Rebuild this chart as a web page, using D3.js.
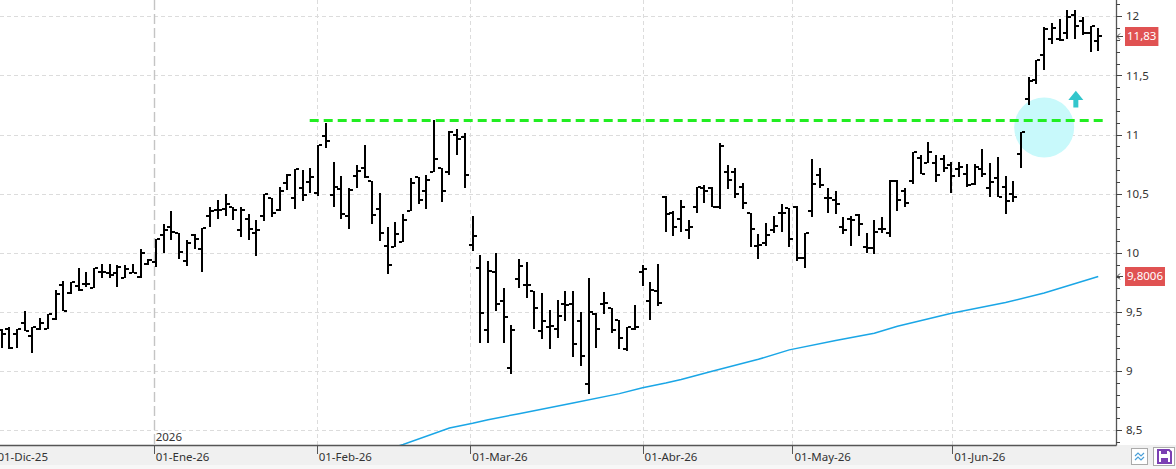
<!DOCTYPE html>
<html>
<head>
<meta charset="utf-8">
<script src="https://cdn.jsdelivr.net/npm/d3@7"></script>
<style>
html, body { margin: 0; padding: 0; background: #fff; }
svg { display: block; font-family: "Noto Sans", "DejaVu Sans", sans-serif; }
</style>
</head>
<body>
<svg id="chart"></svg>
<script>
// daily OHLC, one entry per trading session
const opens = [
  9.35, 9.36, 9.31, 9.41, 9.30, 9.36, 9.36, 9.44, 9.73, 9.66,
  9.72, 9.74, 9.70, 9.84, 9.83, 9.83, 9.79, 9.83, 9.80, 9.91,
  9.92, 10.15, 10.22, 10.17, 9.93, 10.15, 10.03, 10.31, 10.36, 10.37,
  10.39, 10.19, 10.29, 10.17, 10.31, 10.46, 10.36, 10.59, 10.46, 10.55,
  10.60, 10.51, 10.99, 10.49, 10.54, 10.31, 10.65, 10.72, 10.61, 10.37,
  10.06, 10.05, 10.09, 10.35, 10.64, 10.52, 10.68, 10.72, 10.68, 11.00,
  10.98, 10.07, 9.87, 9.35, 9.84, 9.59, 9.03, 9.78, 9.73, 9.68,
  9.34, 9.37, 9.36, 9.57, 9.57, 9.42, 8.89, 9.48, 9.57, 9.53,
  9.43, 9.19, 9.36, 9.84, 9.59, 9.68, 10.47, 10.34, 10.29, 10.19,
  10.39, 10.55, 10.55, 10.39, 10.68, 10.68, 10.56, 10.34, 10.06, 10.08,
  10.19, 10.34, 10.38, 10.39, 9.96, 10.35, 10.66, 10.46, 10.45, 10.22,
  10.29, 10.32, 10.05, 10.04, 10.20, 10.17, 10.61, 10.52, 10.61, 10.80,
  10.76, 10.76, 10.79, 10.74, 10.71, 10.67, 10.58, 10.71, 10.55, 10.63,
  10.56, 10.50, 10.84, 11.30, 11.46, 11.67, 11.81, 11.81, 11.86, 12.01,
  11.96, 11.86, 11.79
];
const highs = [
  9.36, 9.37, 9.36, 9.51, 9.37, 9.45, 9.48, 9.69, 9.76, 9.75,
  9.87, 9.84, 9.87, 9.91, 9.91, 9.90, 9.90, 9.91, 10.03, 9.95,
  10.12, 10.24, 10.35, 10.17, 10.11, 10.16, 10.21, 10.39, 10.45, 10.50,
  10.39, 10.39, 10.33, 10.28, 10.50, 10.46, 10.56, 10.67, 10.71, 10.70,
  10.72, 10.91, 11.10, 10.77, 10.65, 10.55, 10.74, 10.91, 10.61, 10.51,
  10.22, 10.26, 10.33, 10.63, 10.64, 10.66, 11.12, 10.72, 11.03, 11.05,
  11.01, 10.31, 9.98, 9.93, 10.00, 9.70, 9.39, 9.95, 9.92, 9.68,
  9.66, 9.52, 9.60, 9.68, 9.68, 9.50, 9.79, 9.49, 9.67, 9.53,
  9.43, 9.37, 9.56, 9.90, 9.75, 9.91, 10.48, 10.35, 10.45, 10.28,
  10.56, 10.57, 10.56, 10.93, 10.74, 10.72, 10.59, 10.34, 10.16, 10.25,
  10.31, 10.41, 10.38, 10.40, 10.17, 10.79, 10.72, 10.55, 10.52, 10.30,
  10.31, 10.33, 10.17, 10.28, 10.30, 10.62, 10.62, 10.55, 10.85, 10.83,
  10.94, 10.83, 10.83, 10.77, 10.77, 10.75, 10.75, 10.88, 10.76, 10.81,
  10.65, 10.61, 11.02, 11.49, 11.63, 11.91, 11.94, 11.98, 12.05, 12.05,
  11.99, 11.92, 11.90
];
const lows = [
  9.20, 9.19, 9.20, 9.34, 9.15, 9.35, 9.36, 9.43, 9.51, 9.65,
  9.68, 9.71, 9.70, 9.79, 9.79, 9.71, 9.79, 9.83, 9.79, 9.90,
  9.88, 10.00, 10.11, 9.95, 9.89, 10.03, 9.84, 10.22, 10.29, 10.31,
  10.28, 10.13, 10.11, 9.97, 10.27, 10.30, 10.35, 10.53, 10.37, 10.44,
  10.51, 10.48, 10.89, 10.39, 10.29, 10.20, 10.55, 10.63, 10.24, 10.10,
  9.82, 10.05, 10.09, 10.35, 10.41, 10.37, 10.68, 10.43, 10.66, 10.83,
  10.55, 10.02, 9.24, 9.24, 9.51, 9.24, 8.98, 9.70, 9.62, 9.36,
  9.27, 9.19, 9.28, 9.42, 9.12, 9.04, 8.81, 9.20, 9.48, 9.32,
  9.19, 9.17, 9.35, 9.72, 9.43, 9.55, 10.18, 10.14, 10.18, 10.12,
  10.34, 10.42, 10.39, 10.37, 10.54, 10.46, 10.37, 10.05, 9.95, 10.06,
  10.17, 10.18, 10.05, 9.93, 9.87, 10.30, 10.55, 10.34, 10.33, 10.16,
  10.06, 10.14, 10.00, 9.99, 10.17, 10.13, 10.35, 10.39, 10.58, 10.67,
  10.76, 10.60, 10.68, 10.51, 10.64, 10.56, 10.57, 10.64, 10.47, 10.47,
  10.33, 10.43, 10.72, 11.25, 11.43, 11.55, 11.77, 11.79, 11.81, 11.81,
  11.84, 11.70, 11.71
];
const closes = [
  9.31, 9.20, 9.36, 9.34, 9.37, 9.41, 9.48, 9.65, 9.51, 9.75,
  9.69, 9.74, 9.87, 9.84, 9.81, 9.88, 9.86, 9.83, 10.00, 9.94,
  10.12, 10.19, 10.18, 10.01, 10.08, 10.12, 10.21, 10.35, 10.36, 10.41,
  10.36, 10.36, 10.20, 10.19, 10.50, 10.34, 10.52, 10.66, 10.71, 10.49,
  10.64, 10.91, 10.95, 10.56, 10.33, 10.53, 10.69, 10.64, 10.32, 10.17,
  9.90, 10.16, 10.28, 10.59, 10.45, 10.62, 10.79, 10.52, 11.02, 10.96,
  10.66, 10.14, 9.49, 9.85, 9.57, 9.46, 9.35, 9.89, 9.73, 9.53,
  9.42, 9.38, 9.47, 9.56, 9.23, 9.13, 9.50, 9.36, 9.58, 9.35,
  9.28, 9.37, 9.37, 9.86, 9.69, 9.58, 10.33, 10.22, 10.39, 10.22,
  10.56, 10.52, 10.39, 10.90, 10.62, 10.50, 10.42, 10.20, 10.07, 10.15,
  10.23, 10.34, 10.12, 9.96, 10.17, 10.58, 10.57, 10.46, 10.41, 10.19,
  10.28, 10.24, 10.04, 10.18, 10.20, 10.61, 10.45, 10.42, 10.85, 10.67,
  10.85, 10.66, 10.72, 10.65, 10.73, 10.57, 10.73, 10.67, 10.60, 10.47,
  10.44, 10.47, 11.02, 11.45, 11.63, 11.89, 11.90, 11.80, 11.99, 11.92,
  11.86, 11.92, 11.83
];

// moving average (read at a few sessions)
const maIndex  = [51, 52, 58, 61, 63, 67, 74, 80, 83, 86, 88, 92, 98, 102, 108, 113, 116, 123, 130, 135, 142];
const maValues = [8.36, 8.38, 8.52, 8.56, 8.59, 8.64, 8.73, 8.81, 8.86, 8.90, 8.93, 9.00, 9.10, 9.18, 9.26, 9.32, 9.38, 9.49, 9.58, 9.66, 9.80];

const monthLabels = ["01-Dic-25", "01-Ene-26", "01-Feb-26", "01-Mar-26", "01-Abr-26", "01-May-26", "01-Jun-26"];
const monthPos    = [-0.8, 19.7, 40.8, 60.7, 83.0, 102.4, 123.1];
const yearLabel = "2026";

const priceTicks = [8.5, 9, 9.5, 10, 10.5, 11, 11.5, 12];
const lastClose = 11.83;
const lastMa = 9.8006;

const resistance = 11.12;
const resistanceFrom = 39.9;
const resistanceTo = 142.9;
const breakout = { index: 135.0, value: 11.06 };
const arrowMark = { index: 139.1, tip: 11.37, base: 11.23 };

const W = 1176, H = 469;
const plotW = 1116, plotH = 445;

const svg = d3.select("#chart").attr("width", W).attr("height", H);

const x = d3.scaleLinear().domain([-0.2, 144.3]).range([0, plotW]);
const y = d3.scaleLinear().domain([8.5, 12]).range([430.3, 16.3]);

const fmt = v => String(v).replace(".", ",");

svg.append("defs").append("clipPath").attr("id", "plotclip")
    .append("rect").attr("x", 0).attr("y", 0).attr("width", plotW).attr("height", plotH);

// bottom band
svg.append("rect").attr("x", 0).attr("y", plotH).attr("width", W).attr("height", 20).attr("fill", "#f0f0f0");
svg.append("rect").attr("x", 0).attr("y", plotH + 20).attr("width", W).attr("height", H - plotH - 20).attr("fill", "#f7f7f7");

const plot = svg.append("g").attr("clip-path", "url(#plotclip)");

// grid
plot.selectAll("line.hgrid")
    .data(priceTicks)
    .join("line")
    .attr("class", "hgrid")
    .attr("x1", 0).attr("x2", plotW)
    .attr("y1", d => Math.round(y(d)) + 0.5)
    .attr("y2", d => Math.round(y(d)) + 0.5)
    .attr("stroke", "#dcdcdc")
    .attr("stroke-dasharray", "4,3");

plot.selectAll("line.vgrid")
    .data(monthPos.filter((d, i) => i !== 1))
    .join("line")
    .attr("class", "vgrid")
    .attr("x1", d => Math.round(x(d)) + 0.5)
    .attr("x2", d => Math.round(x(d)) + 0.5)
    .attr("y1", 0).attr("y2", plotH)
    .attr("stroke", "#dcdcdc")
    .attr("stroke-dasharray", "4,3");

// year separator
plot.append("line")
    .attr("x1", Math.round(x(monthPos[1])) + 0.5)
    .attr("x2", Math.round(x(monthPos[1])) + 0.5)
    .attr("y1", 0).attr("y2", plotH)
    .attr("stroke", "#c4c4c4")
    .attr("stroke-width", 1.4)
    .attr("stroke-dasharray", "10,4");

svg.append("text")
    .attr("x", x(monthPos[1]) + 2)
    .attr("y", 441)
    .attr("font-size", 11.5)
    .attr("fill", "#333")
    .text(yearLabel);

// breakout highlight
plot.append("circle")
    .attr("cx", x(breakout.index))
    .attr("cy", y(breakout.value))
    .attr("r", 30)
    .attr("fill", "#c8f9fb");

// moving average
const maLine = d3.line()
    .x((d, i) => x(maIndex[i]))
    .y(d => y(d));
plot.append("path")
    .datum(maValues)
    .attr("d", maLine)
    .attr("fill", "none")
    .attr("stroke", "#1aa6e6")
    .attr("stroke-width", 1.5);

// OHLC bars
const bars = plot.append("g").attr("shape-rendering", "crispEdges");
const idx = d3.range(opens.length);
bars.selectAll("g.bar")
    .data(idx)
    .join("g")
    .attr("class", "bar")
    .each(function(i) {
        const g = d3.select(this);
        const cx = Math.round(x(i));
        g.append("rect")
            .attr("x", cx - 1).attr("width", 2)
            .attr("y", Math.round(y(highs[i])))
            .attr("height", Math.max(1, Math.round(y(lows[i])) - Math.round(y(highs[i]))))
            .attr("fill", "#000");
        g.append("rect")
            .attr("x", cx - 4).attr("width", 3)
            .attr("y", Math.round(y(opens[i])) - 1)
            .attr("height", 1.5)
            .attr("fill", "#000");
        g.append("rect")
            .attr("x", cx + 1).attr("width", 3)
            .attr("y", Math.round(y(closes[i])) - 1)
            .attr("height", 1.5)
            .attr("fill", "#000");
    });

// resistance
plot.append("line")
    .attr("x1", x(resistanceFrom)).attr("x2", x(resistanceTo))
    .attr("y1", y(resistance)).attr("y2", y(resistance))
    .attr("stroke", "#22ee22")
    .attr("stroke-width", 3)
    .attr("stroke-dasharray", "9,5");

// up arrow
const ax = x(arrowMark.index), aTip = y(arrowMark.tip), aBase = y(arrowMark.base);
const aMid = aTip + (aBase - aTip) * 0.55;
plot.append("path")
    .attr("d", `M${ax},${aTip} L${ax + 7.5},${aMid} L${ax + 2.5},${aMid} L${ax + 2.5},${aBase} L${ax - 2.5},${aBase} L${ax - 2.5},${aMid} L${ax - 7.5},${aMid} Z`)
    .attr("fill", "#33c6cc");

// axes lines
svg.append("line")
    .attr("x1", 0).attr("x2", plotW + 0.5)
    .attr("y1", plotH + 0.5).attr("y2", plotH + 0.5)
    .attr("stroke", "#555").attr("stroke-width", 1.3);
svg.append("line")
    .attr("x1", plotW + 0.5).attr("x2", plotW + 0.5)
    .attr("y1", 0).attr("y2", plotH + 0.5)
    .attr("stroke", "#555").attr("stroke-width", 1.3);

// right axis ticks
const minorTicks = d3.range(84, 122).map(d => d / 10);
svg.selectAll("line.minor")
    .data(minorTicks)
    .join("line")
    .attr("class", "minor")
    .attr("x1", plotW).attr("x2", plotW + 4)
    .attr("y1", d => Math.round(y(d)) + 0.5)
    .attr("y2", d => Math.round(y(d)) + 0.5)
    .attr("stroke", "#444");
svg.selectAll("line.major")
    .data(priceTicks)
    .join("line")
    .attr("class", "major")
    .attr("x1", plotW).attr("x2", plotW + 6)
    .attr("y1", d => Math.round(y(d)) + 0.5)
    .attr("y2", d => Math.round(y(d)) + 0.5)
    .attr("stroke", "#444");
svg.selectAll("text.ylab")
    .data(priceTicks)
    .join("text")
    .attr("class", "ylab")
    .attr("x", plotW + 10)
    .attr("y", d => y(d))
    .attr("dy", "0.36em")
    .attr("font-size", 11.5)
    .attr("fill", "#333")
    .text(d => fmt(d));

// bottom axis ticks
svg.selectAll("line.xtick")
    .data(monthPos)
    .join("line")
    .attr("class", "xtick")
    .attr("x1", d => Math.round(x(d)) + 0.5)
    .attr("x2", d => Math.round(x(d)) + 0.5)
    .attr("y1", plotH).attr("y2", plotH + 9)
    .attr("stroke", "#555");
svg.selectAll("text.xlab")
    .data(monthLabels)
    .join("text")
    .attr("class", "xlab")
    .attr("x", (d, i) => x(monthPos[i]) + 2)
    .attr("y", 461)
    .attr("font-size", 11.5)
    .attr("fill", "#333")
    .text(d => d);

// last value tags
function valueTag(v, label) {
    const yy = Math.round(y(v));
    svg.append("path")
        .attr("d", `M${plotW + 7},${yy + 0.5} H${plotW + 1} M${plotW + 4},${yy - 2.5} L${plotW + 1},${yy + 0.5} L${plotW + 4},${yy + 3.5}`)
        .attr("fill", "none")
        .attr("stroke", "#444");
    const t = svg.append("text")
        .attr("x", plotW + 11)
        .attr("y", yy)
        .attr("dy", "0.36em")
        .attr("font-size", 11.5)
        .attr("fill", "#fff")
        .text(label);
    const w = t.node().getComputedTextLength();
    svg.insert("rect", () => t.node())
        .attr("x", plotW + 9).attr("y", yy - 9)
        .attr("width", w + 4).attr("height", 19)
        .attr("fill", "#e05252");
}
valueTag(lastClose, fmt(lastClose));
valueTag(lastMa, fmt(lastMa));

// toolbar buttons
const b1 = svg.append("g").attr("transform", "translate(1131,448)");
b1.append("rect").attr("x", 0.5).attr("y", 0.5).attr("width", 16).attr("height", 16)
    .attr("fill", "#fff").attr("stroke", "#aaa");
b1.append("path").attr("d", "M4,8 L7,5 L10,8 L13,5 M4,12 L7,9 L10,12 L13,9")
    .attr("fill", "none").attr("stroke", "#4a9fd8").attr("stroke-width", 1.2);
const b2 = svg.append("g").attr("transform", "translate(1153,447)");
b2.append("rect").attr("x", 0.5).attr("y", 0.5).attr("width", 21).attr("height", 18)
    .attr("fill", "#fff").attr("stroke", "#aaa");
b2.append("path").attr("d", "M5,3 H16 L18,5 V16 H5 Z")
    .attr("fill", "none").attr("stroke", "#7b3fb3").attr("stroke-width", 2);
b2.append("rect").attr("x", 8).attr("y", 4).attr("width", 6).attr("height", 3).attr("fill", "#7b3fb3");
b2.append("rect").attr("x", 8).attr("y", 11).attr("width", 7).attr("height", 4).attr("fill", "#7b3fb3");
</script>
</body>
</html>
